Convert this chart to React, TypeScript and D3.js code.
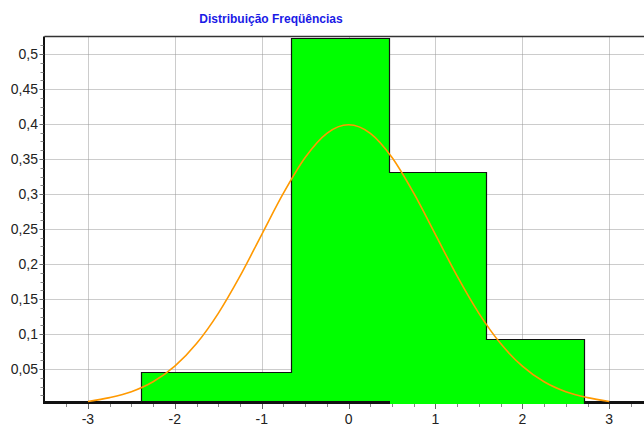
import React from "react";
import * as d3 from "d3";

const title = "Distribuição Freqüências";

// histogram bins
const binStart = [-2.388, -0.662, 0.462, 1.583];
const binEnd = [-0.662, 0.462, 1.583, 2.706];
const binFreq = [0.0457, 0.5226, 0.332, 0.0933];

// density curve
const curveX = [-3, -2.75, -2.5, -2.25, -2, -1.75, -1.5, -1.25, -1, -0.75, -0.5, -0.25, 0, 0.25, 0.5, 0.75, 1, 1.25, 1.5, 1.75, 2, 2.25, 2.5, 2.75, 3];
const curveY = [0.0035, 0.0091, 0.0175, 0.0317, 0.054, 0.0863, 0.1295, 0.1826, 0.242, 0.3011, 0.3521, 0.3867, 0.3989, 0.3867, 0.3521, 0.3011, 0.242, 0.1826, 0.1295, 0.0863, 0.054, 0.0317, 0.0175, 0.0091, 0.0035];

const yTicks = [0.05, 0.1, 0.15, 0.2, 0.25, 0.3, 0.35, 0.4, 0.45, 0.5];
const xTicks = [-3, -2, -1, 0, 1, 2, 3];

const W = 644;
const H = 428;
const left = 44.5;
const right = 644;
const top = 36.5;
const bottom = 404;

export default function App() {
  const x = d3.scaleLinear().domain([-3.5, 3.4]).range([left, right]);
  const y = d3.scaleLinear().domain([0, 0.525]).range([bottom, top]);
  const fmt = (v: number) => String(+v.toFixed(3)).replace(".", ",");
  const px = (v: number) => Math.round(x(v)) + 0.5;
  const py = (v: number) => Math.round(y(v)) + 0.5;

  const line = d3
    .line<number>()
    .x((_, i) => x(curveX[i]))
    .y((d) => y(d))
    .curve(d3.curveMonotoneX);

  // outline of the bar group (no inner dividers, no bottom edge)
  const outlinePts: [number, number][] = [[binStart[0], 0]];
  binFreq.forEach((f, i) => {
    outlinePts.push([binStart[i], f]);
    outlinePts.push([binEnd[i], f]);
  });
  outlinePts.push([binEnd[binEnd.length - 1], 0]);
  const outline = d3
    .line<[number, number]>()
    .x((d) => px(d[0]))
    .y((d) => (d[1] === 0 ? bottom : py(d[1])))(outlinePts);

  const yMinor = d3.range(0.0125, 0.525, 0.0125);
  const xMinor = d3.range(-3.25, 3.4, 0.25);

  const font = "Arial, 'Liberation Sans', sans-serif";
  const axisY = bottom - 1.5;

  const bar = (i: number) => {
    const x0 = px(binStart[i]);
    const x1 = px(binEnd[i]);
    const y0 = py(binFreq[i]);
    return (
      <rect
        key={"b" + i}
        x={x0}
        y={y0}
        width={x1 - x0}
        height={bottom - y0}
        fill="#00FF00"
        shapeRendering="crispEdges"
      />
    );
  };

  return (
    <svg
      width={W}
      height={H}
      style={{ position: "absolute", left: 0, top: 0, background: "#fff" }}
      fontFamily={font}
    >
      <text x={271} y={23} textAnchor="middle" fontSize={12} fontWeight="bold" fill="#1a1ae6">
        {title}
      </text>
      {/* grid */}
      {yTicks.map((t) => (
        <line key={"gy" + t} x1={left} x2={right} y1={py(t)} y2={py(t)} stroke="#999" strokeWidth={1} strokeDasharray="1,1" />
      ))}
      {xTicks.map((t) => (
        <line key={"gx" + t} x1={px(t)} x2={px(t)} y1={top} y2={bottom} stroke="#999" strokeWidth={1} strokeDasharray="1,1" />
      ))}
      {/* bars drawn before axis */}
      {[0, 1].map(bar)}
      {/* top border */}
      <line x1={left} x2={right} y1={top} y2={top} stroke="#333" strokeWidth={1.5} />
      {/* x axis */}
      <line x1={left} x2={right} y1={axisY} y2={axisY} stroke="#111" strokeWidth={3} />
      {[2, 3].map(bar)}
      <path d={outline || ""} fill="none" stroke="#111" strokeWidth={1.2} />
      {/* left axis */}
      <line x1={left - 0.5} x2={left - 0.5} y1={top} y2={bottom} stroke="#111" strokeWidth={2} />
      {/* y ticks */}
      {yMinor.map((t) => (
        <line key={"ym" + t} x1={left - 4} x2={left - 1} y1={py(t)} y2={py(t)} stroke="#888" strokeWidth={1} />
      ))}
      {yTicks.map((t) => (
        <g key={"yt" + t}>
          <line x1={left - 5} x2={left - 1} y1={py(t)} y2={py(t)} stroke="#666" strokeWidth={1} />
          <text x={38} y={y(t) + 5} textAnchor="end" fontSize={14} fill="#222">
            {fmt(t)}
          </text>
        </g>
      ))}
      {/* x ticks */}
      {xMinor.map((t) => (
        <line key={"xm" + t} x1={px(t)} x2={px(t)} y1={bottom} y2={bottom + 3} stroke="#888" strokeWidth={1} />
      ))}
      {xTicks.map((t) => (
        <g key={"xt" + t}>
          <line x1={px(t)} x2={px(t)} y1={bottom} y2={bottom + 5} stroke="#666" strokeWidth={1} />
          <text x={x(t)} y={424} textAnchor="middle" fontSize={14} fill="#222">
            {String(t)}
          </text>
        </g>
      ))}
      {/* density curve */}
      <path d={line(curveY) || ""} fill="none" stroke="#FF9900" strokeWidth={1.6} />
    </svg>
  );
}
